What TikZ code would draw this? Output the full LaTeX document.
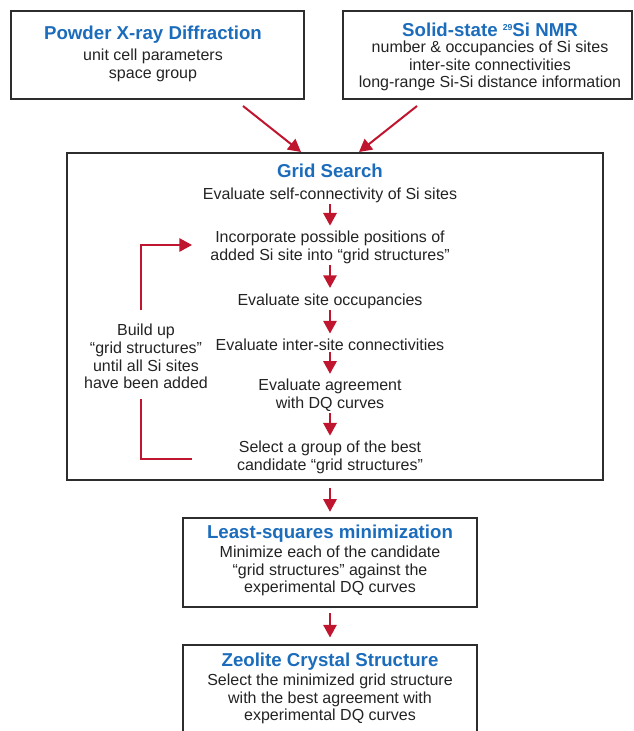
\documentclass[tikz,border=0pt]{standalone}
\usepackage{fontspec}
\setmainfont{Liberation Sans}
\usepackage{tikz}
\usetikzlibrary{arrows.meta, positioning, fit}
\usepackage{xcolor}
\definecolor{titleBlue}{RGB}{28, 108, 188}
\definecolor{flowRed}{RGB}{192, 21, 46}
\definecolor{boxLine}{RGB}{45, 45, 45}
\definecolor{bodyText}{RGB}{35, 35, 35}
\newcommand{\isotope}[1]{\raisebox{4.5pt}{\fontsize{6.5}{7}\selectfont #1}}

\begin{document}
\begin{tikzpicture}[
  x=0.75pt, y=-0.75pt,
  box/.style={draw=boxLine, line width=1.3pt, inner sep=0pt},
  head/.style={font=\fontsize{14}{16}\selectfont\bfseries, text=titleBlue, inner sep=1pt},
  body/.style={font=\fontsize{12}{13.2}\selectfont, text=bodyText, align=center, inner sep=1pt},
  flow/.style={-{Triangle[length=9.5pt, width=10pt]}, line width=1.5pt, flowRed},
  >=Stealth
]
  \useasboundingbox (0,0) rectangle (633,731);
  \clip (0,0) rectangle (633,731);

  % Input boxes
  \node[box, fit={(11,11) (304,99)}] (xrd) {};
  \node[head] (xrdT) at (153,35) {Powder X-ray Diffraction};
  \node[body] (xrdB) at (153,65.5) {unit cell parameters\\space group};

  \node[box, fit={(343,11) (632,99)}] (nmr) {};
  \node[head] (nmrT) at (490,30) {Solid-state \isotope{29}Si NMR};
  \node[body] (nmrB) at (490,66) {number \& occupancies of Si sites\\inter-site connectivities\\long-range Si-Si distance information};

  % Grid search
  \node[box, fit={(67,153) (603,480)}] (grid) {};
  \node[head] (gridT) at (330,171) {Grid Search};
  \node[body] (s1) at (330,195)   {Evaluate self-connectivity of Si sites};
  \node[body] (s2) at (330,247.5) {Incorporate possible positions of\\added Si site into “grid structures”};
  \node[body] (s3) at (330,301)   {Evaluate site occupancies};
  \node[body] (s4) at (330,345)   {Evaluate inter-site connectivities};
  \node[body] (s5) at (330,395.5) {Evaluate agreement\\with DQ curves};
  \node[body] (s6) at (330,457.5) {Select a group of the best\\candidate “grid structures”};
  \node[body] (build) at (146,356.5) {Build up\\“grid structures”\\until all Si sites\\have been added};

  % Minimization and result
  \node[box, fit={(183,518) (477,607)}] (lsq) {};
  \node[head] (lsqT) at (330,534) {Least-squares minimization};
  \node[body] (lsqB) at (330,571) {Minimize each of the candidate\\“grid structures” against the\\experimental DQ curves};

  \node[box, fit={(183,645) (477,760)}] (zeo) {};
  \node[head] (zeoT) at (330,662) {Zeolite Crystal Structure};
  \node[body] (zeoB) at (330,699) {Select the minimized grid structure\\with the best agreement with\\experimental DQ curves};

  \coordinate (xrdOut) at (243,106);
  \coordinate (xrdIn)  at (301,152);
  \coordinate (nmrOut) at (417,106);
  \coordinate (nmrIn)  at (359,152);
  \coordinate (lpTop) at (141,310);
  \coordinate (lpIn)  at (192,245);
  \coordinate (lpBot) at (141,399);
  \coordinate (lpEnd) at (192,459);

  % Arrows
  \draw[flow] (xrdOut) -- (xrdIn);
  \draw[flow] (nmrOut) -- (nmrIn);
  \draw[flow, shorten >=3pt] (s1) -- (s2);
  \draw[flow, shorten >=3pt] (s2) -- (s3);
  \draw[flow, shorten >=3pt] (s3) -- (s4);
  \draw[flow, shorten >=3pt] (s4) -- (s5);
  \draw[flow, shorten >=3pt] (s5) -- (s6);
  \draw[flow] (lpTop) |- (lpIn);
  \draw[flow, -] (lpBot) |- (lpEnd);
  \draw[flow, shorten <=5pt, shorten >=4pt] (s6 |- grid.south) -- (lsq.north);
  \draw[flow, shorten <=4pt, shorten >=5pt] (lsq.south) -- (zeo.north);
\end{tikzpicture}
\end{document}
